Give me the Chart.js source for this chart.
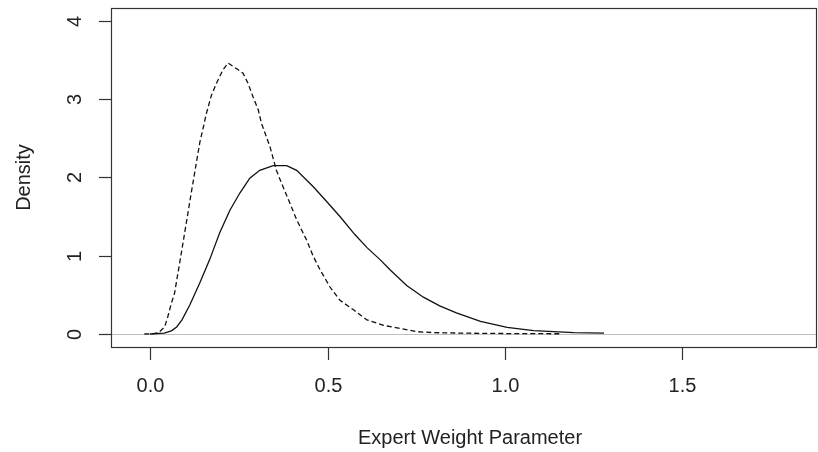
<!DOCTYPE html>
<html>
<head>
<meta charset="utf-8">
<script src="https://cdn.jsdelivr.net/npm/chart.js@4/dist/chart.umd.min.js"></script>
<style>
  html, body { margin: 0; padding: 0; background: #fff; }
  canvas { display: block; }
</style>
</head>
<body>
<canvas id="densityChart" width="818" height="452"></canvas>
<script>
// dashed density curve
var dashX = [-0.016, 0.01, 0.025, 0.041, 0.05, 0.06, 0.069, 0.088, 0.116, 0.14, 0.159, 0.173, 0.187, 0.205, 0.22, 0.243, 0.262, 0.276, 0.29, 0.305, 0.314, 0.338, 0.356, 0.371, 0.394, 0.413, 0.441, 0.46, 0.479, 0.507, 0.535, 0.573, 0.611, 0.658, 0.705, 0.752, 0.80, 0.90, 1.00, 1.157];
var dashY = [0, 0.005, 0.02, 0.09, 0.22, 0.39, 0.52, 1.03, 1.80, 2.44, 2.82, 3.05, 3.20, 3.37, 3.46, 3.39, 3.33, 3.20, 3.03, 2.86, 2.69, 2.39, 2.09, 1.92, 1.67, 1.46, 1.20, 0.99, 0.82, 0.60, 0.43, 0.31, 0.18, 0.11, 0.07, 0.03, 0.017, 0.01, 0.006, 0.003];

// solid density curve
var solidX = [0.0, 0.04, 0.06, 0.075, 0.09, 0.112, 0.14, 0.168, 0.196, 0.225, 0.253, 0.281, 0.309, 0.347, 0.385, 0.413, 0.46, 0.50, 0.535, 0.577, 0.612, 0.648, 0.676, 0.723, 0.770, 0.816, 0.863, 0.931, 1.006, 1.081, 1.194, 1.279];
var solidY = [0, 0.01, 0.04, 0.09, 0.18, 0.37, 0.65, 0.95, 1.29, 1.58, 1.80, 1.99, 2.09, 2.15, 2.15, 2.09, 1.88, 1.68, 1.50, 1.27, 1.10, 0.95, 0.82, 0.62, 0.47, 0.36, 0.27, 0.16, 0.085, 0.043, 0.017, 0.01];

var xTicks = [0, 0.5, 1.0, 1.5];
var yTicks = [0, 1, 2, 3, 4];
var xTitle = 'Expert Weight Parameter';
var yTitle = 'Density';

function toPoints(xs, ys) {
    return xs.map(function(x, i) { return { x: x, y: ys[i] }; });
}

var FONT = '20px "Liberation Sans", Arial, sans-serif';

// R-style frame: box, outward ticks, rotated y labels, zero line
var rFrame = {
    id: 'rFrame',
    beforeDatasetsDraw: function(chart) {
        var ctx = chart.ctx, area = chart.chartArea, y = chart.scales.y;
        var y0 = Math.round(y.getPixelForValue(0)) + 0.5;
        ctx.save();
        ctx.strokeStyle = '#bebebe';
        ctx.lineWidth = 1;
        ctx.beginPath();
        ctx.moveTo(area.left, y0);
        ctx.lineTo(area.right, y0);
        ctx.stroke();
        ctx.restore();
    },
    afterDraw: function(chart) {
        var ctx = chart.ctx, area = chart.chartArea;
        var xs = chart.scales.x, ys = chart.scales.y;
        ctx.save();
        ctx.strokeStyle = '#333';
        ctx.lineWidth = 1.2;
        ctx.strokeRect(area.left + 0.5, area.top + 0.5, area.right - area.left - 1, area.bottom - area.top);

        ctx.fillStyle = '#222';
        ctx.font = FONT;

        // x axis
        ctx.textAlign = 'center';
        ctx.textBaseline = 'middle';
        xTicks.forEach(function(v) {
            var px = Math.round(xs.getPixelForValue(v)) + 0.5;
            ctx.beginPath();
            ctx.moveTo(px, area.bottom);
            ctx.lineTo(px, area.bottom + 13);
            ctx.stroke();
            ctx.fillText(v.toFixed(1), px, area.bottom + 39);
        });
        ctx.fillText(xTitle, 470, area.bottom + 91);

        // y axis
        yTicks.forEach(function(v) {
            var py = Math.round(ys.getPixelForValue(v)) + 0.5;
            ctx.beginPath();
            ctx.moveTo(area.left, py);
            ctx.lineTo(area.left - 12, py);
            ctx.stroke();
            ctx.save();
            ctx.translate(area.left - 36, py);
            ctx.rotate(-Math.PI / 2);
            ctx.fillText(String(v), 0, 0);
            ctx.restore();
        });
        ctx.save();
        ctx.translate(24, (area.top + area.bottom) / 2);
        ctx.rotate(-Math.PI / 2);
        ctx.fillText(yTitle, 0, 0);
        ctx.restore();
        ctx.restore();
    }
};

new Chart(document.getElementById('densityChart').getContext('2d'), {
    type: 'line',
    data: {
        datasets: [
            {
                label: 'dashed',
                data: toPoints(dashX, dashY),
                borderColor: '#111',
                borderWidth: 1.3,
                borderDash: [5, 3],
                pointRadius: 0,
                tension: 0,
                fill: false
            },
            {
                label: 'solid',
                data: toPoints(solidX, solidY),
                borderColor: '#111',
                borderWidth: 1.3,
                pointRadius: 0,
                tension: 0,
                fill: false
            }
        ]
    },
    options: {
        responsive: false,
        animation: false,
        layout: { padding: { left: 111, top: 8, right: 1, bottom: 105 } },
        plugins: { legend: { display: false }, tooltip: { enabled: false } },
        scales: {
            x: { type: 'linear', min: -0.11, max: 1.879, display: false },
            y: { type: 'linear', min: -0.166, max: 4.163, display: false }
        }
    },
    plugins: [rFrame]
});
</script>
</body>
</html>
